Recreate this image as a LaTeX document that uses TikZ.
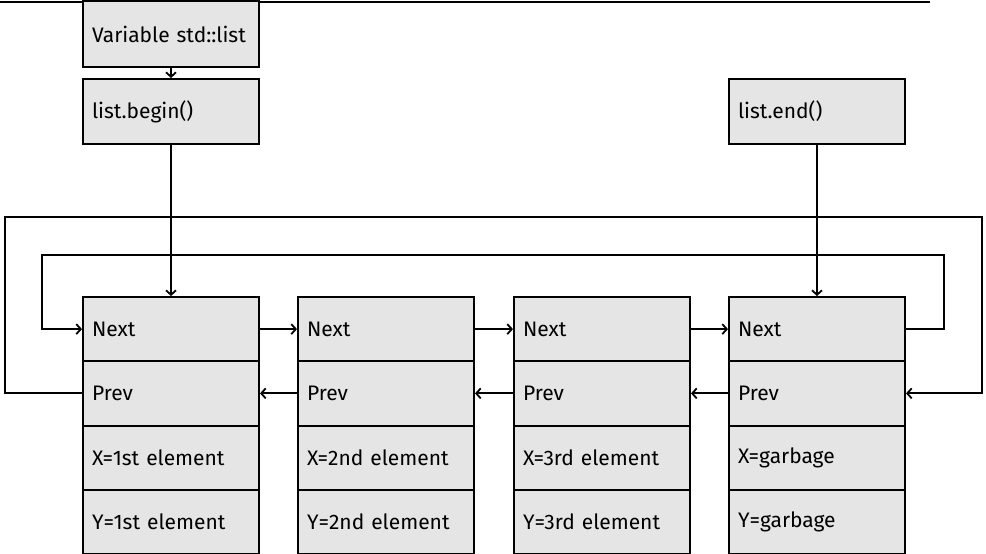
\documentclass[tikz,border=0pt]{standalone}
\usepackage{fontspec}
\setmainfont{Fira Sans}
\usetikzlibrary{arrows.meta}
\begin{document}
\begin{tikzpicture}[x=1pt,y=-1pt,
  cell/.style={draw, line width=2pt, fill=black!10, anchor=north west,
    text width=158pt, inner xsep=9pt, inner ysep=0pt, minimum height=64.25pt,
    align=left, font=\fontsize{21}{24}\selectfont},
  conn/.style={line width=1.8pt},
  arr/.style={conn, -{Straight Barb[length=4.5pt,width=10pt]}}]
\useasboundingbox (0,0) rectangle (986,554);
\draw[conn, line width=2pt] (0,1.5) -- (930,1.5);
\node[cell, minimum height=66pt] (var) at (82,0) {Variable std::list};
\node[cell, minimum height=65pt] (beg) at (82,78) {list.begin()};
\node[cell, minimum height=65pt] (end) at (728,78) {list.end()};
% column 1
\node[cell] (n1) at (82,296) {Next};
\node[cell] (p1) at (82,360.25) {Prev};
\node[cell] (x1) at (82,424.5) {X=1st element};
\node[cell] (y1) at (82,488.75) {Y=1st element};
% column 2
\node[cell] (n2) at (297,296) {Next};
\node[cell] (p2) at (297,360.25) {Prev};
\node[cell] (x2) at (297,424.5) {X=2nd element};
\node[cell] (y2) at (297,488.75) {Y=2nd element};
% column 3
\node[cell] (n3) at (513,296) {Next};
\node[cell] (p3) at (513,360.25) {Prev};
\node[cell] (x3) at (513,424.5) {X=3rd element};
\node[cell] (y3) at (513,488.75) {Y=3rd element};
% column 4
\node[cell] (n4) at (728,296) {Next};
\node[cell] (p4) at (728,360.25) {Prev};
\node[cell] (x4) at (728,424.5) {X=garbage};
\node[cell] (y4) at (728,488.75) {Y=garbage};
% connectors
\draw[arr] (var.south) -- (beg.north);
\draw[arr] (beg.south) -- (n1.north);
\draw[arr] (end.south) -- (n4.north);
\draw[arr] (n1.east) -- (n2.west);
\draw[arr] (n2.east) -- (n3.west);
\draw[arr] (n3.east) -- (n4.west);
\draw[arr] (p2.west) -- (p1.east);
\draw[arr] (p3.west) -- (p2.east);
\draw[arr] (p4.west) -- (p3.east);
\coordinate (ir) at (944,255);
\coordinate (il) at (42,255);
\draw[arr] (n4.east) -| (ir) -- (il) |- (n1.west);
\coordinate (or) at (982,217);
\coordinate (ol) at (5,217);
\draw[arr] (p1.west) -| (ol) -- (or) |- (p4.east);
\end{tikzpicture}
\end{document}
